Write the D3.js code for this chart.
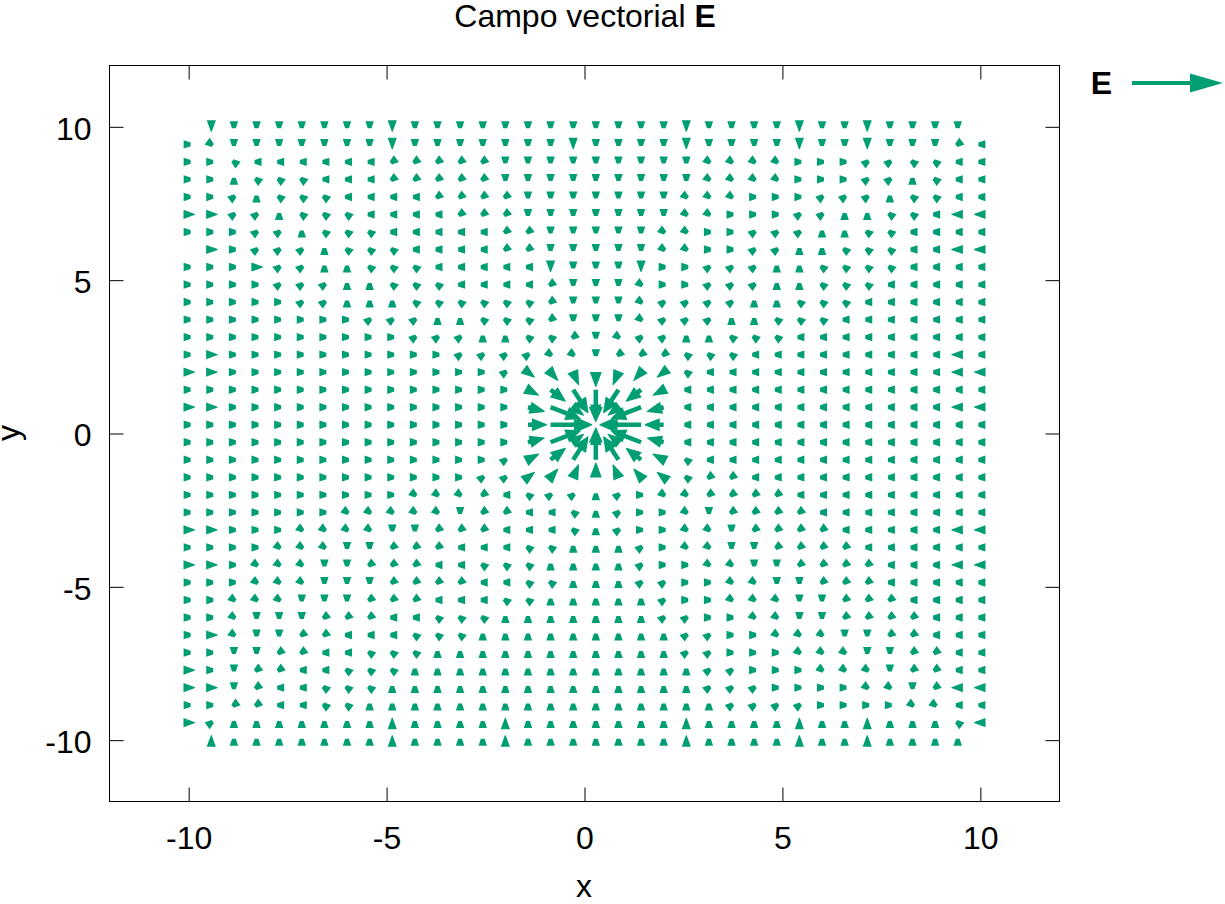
<!DOCTYPE html>
<html>
<head>
<meta charset="utf-8">
<script src="https://cdn.jsdelivr.net/npm/d3@7"></script>
<style>
  body { margin: 0; background: #fff; }
  svg { display: block; }
  text { font-family: "Liberation Sans", Arial, sans-serif; }
</style>
</head>
<body>
<svg id="canvas" width="1225" height="904"></svg>
<script>
// axis ticks
let xTicks = [-10, -5, 0, 5, 10]
let yTicks = [-10, -5, 0, 5, 10]

// sample grid (36 x 36), columns left to right, rows top to bottom
let gridX = [-10, -9.4286, -8.8571, -8.2857, -7.7143, -7.1429, -6.5714, -6, -5.4286, -4.8571,
             -4.2857, -3.7143, -3.1429, -2.5714, -2, -1.4286, -0.8571, -0.2857, 0.2857, 0.8571,
             1.4286, 2, 2.5714, 3.1429, 3.7143, 4.2857, 4.8571, 5.4286, 6, 6.5714,
             7.1429, 7.7143, 8.2857, 8.8571, 9.4286, 10]
let gridY = [10, 9.4286, 8.8571, 8.2857, 7.7143, 7.1429, 6.5714, 6, 5.4286, 4.8571,
             4.2857, 3.7143, 3.1429, 2.5714, 2, 1.4286, 0.8571, 0.2857, -0.2857, -0.8571,
             -1.4286, -2, -2.5714, -3.1429, -3.7143, -4.2857, -4.8571, -5.4286, -6, -6.5714,
             -7.1429, -7.7143, -8.2857, -8.8571, -9.4286, -10]

// direction of the short arrows (numpad codes:
// 6 right, 9 up-right, 8 up, 7 up-left, 4 left, 1 down-left, 2 down, 3 down-right;
// R U L D = longer arrow, . = none). Left half = columns 0-17, right half = 18-35
let fieldLeft = [
  '.D2222222D22222222',
  '632222222D2222222D',
  '667444444111112222',
  '668777444111112222',
  '669877744441111222',
  'RR9987774444111222',
  '666998777444441122',
  '.R6999877744441122',
  '666R998877744444D2',
  '666699988777444412',
  '666669988877777712',
  '666666669998877712',
  '666666666699988771',
  '6R6666666666999933',
  'RR6666666666669333',
  '666666666666666333',
  'RR6666666666666663',
  '666666666666666666',
  '666666666666666699',
  '666666666666669999',
  '666666666666699999',
  '666666666633314799',
  '666666633333211447',
  'RR6663333221114447',
  '666633322111444778',
  'RR6333221114477788',
  '666333222111144778',
  '663332221114447788',
  '663222111447778888',
  '6R3221144477788888',
  '662211447778888888',
  'R62114477788888888',
  'RR2144777888888888',
  '661144778888888888',
  'R98888888U8888U888',
  '.U8888888U8888U888'
]
let fieldRight = [
  '2222D2222D22D2222.',
  '2222D2222D22D22214',
  '222223333666997744',
  '222223333666998744',
  '222233366699987744',
  '2222336669988774LL',
  '222336699988774444',
  '2223366998877744LL',
  '22D669998877774444',
  '223669998877744444',
  '223999988777444444',
  '223999887774444444',
  '239988777444444444',
  '2111777444444444L4',
  '2111744444444444LL',
  '211144444444444444',
  '2144444444444444LL',
  '.44444444444444444',
  '877444444444444444',
  '877774444444444444',
  '877771144444444444',
  '896331111444444444',
  '896632111144444444',
  '8966332111144444LL',
  '889633221111444444',
  '8896633221111444LL',
  '889966332211144444',
  '888966333221114444',
  '888996633221111444',
  '888899663332211444',
  '888899666333221144',
  '888889966633321144',
  '8888899966663321LL',
  '888888999966663344',
  '8888U8888U88U8887L',
  '8888U8888U88U8888.'
]

// longer vectors around the charge: [column, row, dx, dy]
let nearCharge = [
  [15, 14, 0.17, -0.17], [16, 14, 0.19, -0.28], [17, 14, 0.14, -0.42], [18, 14, 0, -0.48],
  [19, 14, -0.14, -0.42], [20, 14, -0.19, -0.28], [21, 14, -0.17, -0.17],
  [15, 15, 0.28, -0.19], [16, 15, 0.38, -0.38], [17, 15, 0.38, -0.76], [18, 15, 0, -1.05],
  [19, 15, -0.38, -0.76], [20, 15, -0.38, -0.38], [21, 15, -0.28, -0.19],
  [15, 16, 0.42, -0.14], [16, 16, 0.76, -0.38], [17, 16, 0.27, -0.27], [18, 16, 0, -0.4],
  [19, 16, -0.27, -0.27], [20, 16, -0.76, -0.38], [21, 16, -0.42, -0.14],
  [15, 17, 0.48, 0], [16, 17, 1.05, 0], [17, 17, 0.4, 0],
  [19, 17, -0.4, 0], [20, 17, -1.05, 0], [21, 17, -0.48, 0],
  [15, 18, 0.42, 0.14], [16, 18, 0.76, 0.38], [17, 18, 0.27, 0.27], [18, 18, 0, 0.4],
  [19, 18, -0.27, 0.27], [20, 18, -0.76, 0.38], [21, 18, -0.42, 0.14],
  [15, 19, 0.28, 0.19], [16, 19, 0.38, 0.38], [17, 19, 0.38, 0.76], [18, 19, 0, 1.05],
  [19, 19, -0.38, 0.76], [20, 19, -0.38, 0.38], [21, 19, -0.28, 0.19],
  [15, 20, 0.17, 0.17], [16, 20, 0.19, 0.28], [17, 20, 0.14, 0.42], [18, 20, 0, 0.48],
  [19, 20, -0.14, 0.42], [20, 20, -0.19, 0.28], [21, 20, -0.17, 0.17]
]

let codeDirs = {
  '6': [1, 0, 'small'], '9': [0.7071, 0.7071, 'small'], '8': [0, 1, 'small'],
  '7': [-0.7071, 0.7071, 'small'], '4': [-1, 0, 'small'], '1': [-0.7071, -0.7071, 'small'],
  '2': [0, -1, 'small'], '3': [0.7071, -0.7071, 'small'],
  'R': [1, 0, 'big'], 'U': [0, 1, 'big'], 'L': [-1, 0, 'big'], 'D': [0, -1, 'big']
}
let codeLength = { small: 0.05, big: 0.16 }

let green = '#009e73'
let canvas = d3.select('#canvas')

canvas.append('rect').attr('width', 1225).attr('height', 904).attr('fill', '#fff')

let xScale = d3.scaleLinear().domain([-12, 12]).range([109.5, 1059.5])
let yScale = d3.scaleLinear().domain([-12, 12]).range([801.5, 65.5])

// build the vector table
let vectors = []
let nearKey = {}
nearCharge.forEach((v) => {
    nearKey[v[0] + ',' + v[1]] = true
    vectors.push({ x: gridX[v[0]], y: gridY[v[1]], dx: v[2], dy: v[3], kind: 'long' })
})
fieldLeft.forEach((left, row) => {
    let line = left + fieldRight[row]
    for (let col = 0; col < line.length && col < gridX.length; col++) {
        let d = codeDirs[line[col]]
        if (!d || nearKey[col + ',' + row]) continue
        let len = codeLength[d[2]]
        vectors.push({ x: gridX[col], y: gridY[row], dx: d[0] * len, dy: d[1] * len, kind: d[2] })
    }
})

let arrowLayer = canvas.append('g')

let drawArrow = (v) => {
    let t0 = [xScale(v.x), yScale(v.y)]
    let t1 = [xScale(v.x + v.dx), yScale(v.y + v.dy)]
    let vx = t1[0] - t0[0], vy = t1[1] - t0[1]
    let len = Math.hypot(vx, vy)
    if (len < 0.01) return
    let ux = vx / len, uy = vy / len
    let px = -uy, py = ux
    let hl, hw, fw
    if (v.kind === 'small') { hl = 7; hw = 4.2; fw = 1.9 }
    else if (v.kind === 'big') { hl = 11.5; hw = 4.6; fw = 0.4 }
    else { hl = Math.min(15, 7 + 0.8 * len); hw = Math.min(7, 4.5 + 0.1 * len); fw = 0.4 }
    let bx = t1[0] - ux * hl, by = t1[1] - uy * hl
    if (len > hl) {
        arrowLayer.append('line')
            .attr('x1', t0[0]).attr('y1', t0[1])
            .attr('x2', bx + ux * 2).attr('y2', by + uy * 2)
            .attr('stroke', green)
            .attr('stroke-width', 4.5)
    }
    let pts = [
        [t1[0] + px * fw, t1[1] + py * fw],
        [t1[0] - px * fw, t1[1] - py * fw],
        [bx - px * hw, by - py * hw],
        [bx + px * hw, by + py * hw]
    ]
    arrowLayer.append('polygon')
        .attr('points', pts.map((p) => p[0].toFixed(2) + ',' + p[1].toFixed(2)).join(' '))
        .attr('fill', green)
}

vectors.forEach(drawArrow)

// axes with inward ticks on all four sides
let styleAxis = (g) => {
    g.select('.domain').remove()
    g.selectAll('line').attr('stroke', '#000').attr('stroke-width', 1)
    g.selectAll('text')
        .attr('fill', '#000')
        .style('font-family', '"Liberation Sans", Arial, sans-serif')
        .style('font-size', '32px')
}

let plainNumber = (d) => String(d)

canvas.append('g')
    .attr('transform', 'translate(0,801.5)')
    .call(d3.axisBottom(xScale).tickValues(xTicks).tickSize(-14).tickPadding(25).tickFormat(plainNumber))
    .call(styleAxis)

canvas.append('g')
    .attr('transform', 'translate(0,65.5)')
    .call(d3.axisTop(xScale).tickValues(xTicks).tickSize(-14).tickFormat(''))
    .call(styleAxis)

canvas.append('g')
    .attr('transform', 'translate(109.5,0)')
    .call(d3.axisLeft(yScale).tickValues(yTicks).tickSize(-14).tickPadding(18).tickFormat(plainNumber))
    .call(styleAxis)
    .selectAll('text').attr('dy', '0.39em')

canvas.append('g')
    .attr('transform', 'translate(1059.5,0)')
    .call(d3.axisRight(yScale).tickValues(yTicks).tickSize(-14).tickFormat(''))
    .call(styleAxis)

// frame
canvas.append('rect')
    .attr('x', 109.5).attr('y', 65.5)
    .attr('width', 950).attr('height', 736)
    .attr('fill', 'none')
    .attr('stroke', '#000')
    .attr('stroke-width', 1)

// title and labels
let title = canvas.append('text')
    .attr('x', 585).attr('y', 27)
    .attr('text-anchor', 'middle')
    .style('font-size', '32px')
title.append('tspan').text('Campo vectorial ')
title.append('tspan').attr('font-weight', 'bold').text('E')

canvas.append('text')
    .attr('x', 584).attr('y', 897)
    .attr('text-anchor', 'middle')
    .style('font-size', '32px')
    .text('x')

canvas.append('text')
    .attr('transform', 'translate(19,433) rotate(-90)')
    .attr('text-anchor', 'middle')
    .style('font-size', '32px')
    .text('y')

// key
canvas.append('text')
    .attr('x', 1112).attr('y', 94)
    .attr('text-anchor', 'end')
    .attr('font-weight', 'bold')
    .style('font-size', '32px')
    .text('E')

canvas.append('line')
    .attr('x1', 1132).attr('y1', 83)
    .attr('x2', 1194).attr('y2', 83)
    .attr('stroke', green)
    .attr('stroke-width', 3.8)

canvas.append('polygon')
    .attr('points', '1223,83 1190,73.5 1190,92.5')
    .attr('fill', green)
</script>
</body>
</html>
